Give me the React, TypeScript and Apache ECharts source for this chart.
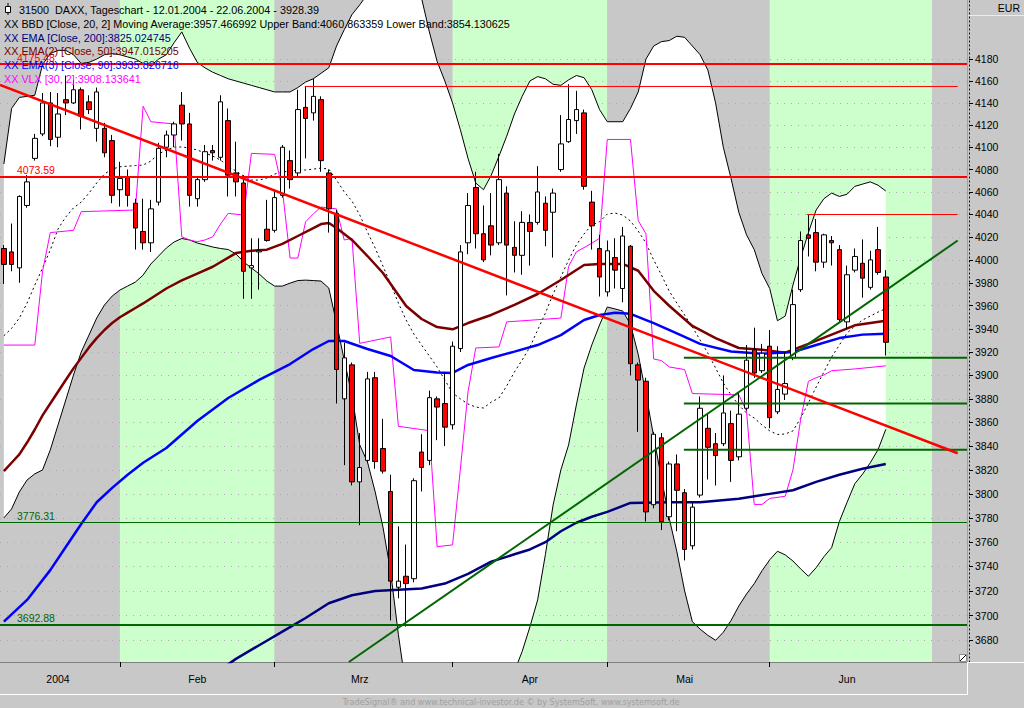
import React, { useEffect, useRef } from "react";
import * as echarts from "echarts";

// ---------- DATA ----------
const SLOTS = 125; // trading-day slots on the x axis (12.01.2004 .. early July)
const categories = Array.from({ length: SLOTS }, (_, i) => String(i));

const monthNames = ["2004", "Feb", "Mrz", "Apr", "Mai", "Jun"];
const monthLabelAt = [7, 25, 46, 68, 88, 109];
const monthStarts = [15, 35, 58, 78, 99];
const bandBounds = [-0.5, 15, 35, 58, 78, 99, 120, 124.5];

const yTicks = [3680, 3700, 3720, 3740, 3760, 3780, 3800, 3820, 3840, 3860, 3880, 3900, 3920, 3940, 3960, 3980, 4000, 4020, 4040, 4060, 4080, 4100, 4120, 4140, 4160, 4180];
const yRange = [3662.5, 4234.5];

const open = [4010,4007,3993,4048,4090,4112,4140,4109,4143,4140, 4152,4141,4117,4117,4106,4062,4073,4050,4025,4015, 4051,4100,4111,4138,4121,4054,4071,4097,4091,4124, 4077,4068,3993,4007,4027,4026,4057,4088,4077,4136, 4131,4143,4077,4041,3880,3909,3810,3828,3898,3838, 3802,3723,3732,3730,3835,3828,3880,3876,3858,3923, 4015,4064,4023,4030,4015,4059,4011,4004,4033,4033, 4050,4042,4080,4105,4124,4131,4051,4010,3972,4002, 3975,4012,3909,3895,3791,3847,3781,3825,3801,3757, 3799,3855,3842,3842,3859,3831,3872,3922,3904,3925, 3869,3884,3915,3974,4022,4024,3998,4017,4009,3946, 3991,3997,3976,4009,3985];
const close = [3996,3996,4056,4069,4108,4140,4107,4130,4140,4152, 4128,4134,4150,4095,4057,4072,4057,4028,4015,4045, 4099,4111,4121,4121,4057,4071,4096,4095,4141,4075, 4069,3990,3995,4008,4017,4055,4100,4071,4134,4126, 4146,4088,4045,3905,3915,3810,3822,3897,3827,3819, 3728,3728,3726,3811,3822,3881,3873,3856,3925,4007, 4048,4023,4000,4013,4071,4013,4004,4033,4025,4060, 4026,4059,4103,4125,4134,4065,4030,3985,4008,3991, 4021,3910,3896,3785,3850,3777,3825,3803,3754,3789, 3872,3839,3832,3868,3828,3867,3913,3902,3919,3864, 3888,3893,3961,4017,4019,3998,4022,4015,3948,3987, 4003,3984,4000,3989,3928.39];
const high = [4013,4032,4057,4075,4112,4149,4150,4149,4165,4161, 4154,4147,4154,4122,4111,4087,4080,4054,4054,4053, 4104,4115,4123,4150,4131,4074,4102,4102,4147,4135, 4105,4075,4019,4019,4053,4062,4102,4097,4152,4155, 4162,4146,4080,4044,3928,3911,3851,3903,3903,3863, 3816,3773,3758,3813,3850,3887,3882,3902,3929,4013, 4059,4078,4048,4059,4094,4065,4034,4043,4040,4083, 4056,4063,4129,4157,4151,4134,4061,4022,4017,4019, 4029,4013,3911,3898,3852,3851,3827,3833,3804,3793, 3882,3868,3851,3900,3870,3885,3926,3941,3927,3939, 3925,3920,3974,4025,4040,4036,4023,4021,4013,3995, 4010,4018,4008,4029,3991];
const low = [3979,3990,3980,4046,4088,4110,4101,4100,4129,4139, 4116,4130,4105,4091,4050,4047,4047,4009,4009,4007, 4048,4091,4100,4106,4047,4047,4069,4088,4088,4056, 4056,3966,3966,3974,4016,4024,4055,4063,4074,4090, 4124,4078,4024,3876,3824,3807,3774,3826,3821,3817, 3696,3714,3691,3727,3802,3824,3845,3840,3854,3920, 4005,4010,3998,4004,4013,3969,3989,3987,3995,4031, 4012,4002,4078,4104,4112,4062,4009,3968,3968,3975, 3963,3900,3852,3777,3788,3770,3778,3769,3745,3754, 3797,3812,3807,3840,3810,3828,3870,3898,3902,3855, 3867,3879,3913,3972,4003,3990,3993,3995,3946,3940, 3989,3967,3974,3987,3917];

const bbUpper = [4085,4135,4145,4146,4147,4175,4185,4188,4188,4184, 4176,4177,4180,4184,4185,4184,4182,4180,4176,4174, 4180,4184,4195,4205,4190,4177,4172,4168,4165,4162, 4160,4158,4156,4154,4152,4150,4150,4150,4154,4159, 4162,4167,4172,4192,4207,4221,4230,4240,4250,4255, 4258,4260,4258,4250,4236,4205,4178,4160,4140,4116, 4090,4068,4062,4075,4092,4110,4130,4146,4160,4164, 4162,4157,4156,4161,4165,4163,4152,4134,4123,4123, 4123,4135,4150,4180,4192,4196,4197,4201,4200,4192, 4184,4170,4140,4100,4072,4042,4022,4009,3988,3975, 3947,3951,3978,4002,4024,4044,4054,4059,4056,4058, 4065,4067,4069,4066,4060.86];
const bbLower = [3780,3787.5,3801.6,3811.6,3816.7,3820,3836.8,3857.8,3879,3900.3, 3920,3934.6,3949.3,3960.6,3968.4,3973.6,3977.1,3980.6,3986.7,3996.4, 4003.4,4010.4,4015.7,4018.8,4017.5,4014.8,4013.1,4011.3,4010,4009.1, 4005.2,3998.2,3992.9,3987.7,3981.5,3977.1,3977.1,3979.7,3981.9,3982.3, 3981.9,3981.5,3975.4,3945,3913,3883,3841,3826.7,3801.6,3772.6, 3735.5,3684.5,3641,3615,3600,3590,3582,3578,3578,3582, 3590,3598,3606,3615,3626,3640,3655,3671,3690.8,3712.7, 3749.7,3790.8,3820,3841,3874.7,3906.3,3926.1,3943.3,3958.9,3957.2, 3955.4,3944,3918,3884,3848,3813,3780,3752,3720,3695, 3689,3684,3680,3686.5,3696,3707.7,3717.5,3726,3736.5,3745.5, 3752.5,3749.5,3744.5,3738,3732,3739,3748,3755.5,3777,3793, 3808.5,3816.5,3826,3837,3854.13];
const bbMid = [3934,3940.4,3949.3,3962.3,3978,3992.9,4008.7,4027.2,4037.8,4045.8, 4051,4059,4068,4076,4080.4,4082.5,4083,4083.6,4084,4087.6, 4093.9,4097.5,4100.2,4100.2,4099.3,4097.5,4094.8,4092.1,4088.5,4083.1, 4078.7,4074.2,4070.6,4070.6,4072.4,4076,4077.8,4078.7,4079.6,4079.6, 4080.4,4081.3,4080.4,4070.6,4060,4051.9,4039.6,4024.5,4010.4,3994.6, 3978.9,3962.3,3947.6,3935.5,3926,3916.6,3907.2,3896.1,3885.1,3880, 3875.6,3873,3872.2,3877.2,3880.7,3891,3902.9,3913.2,3924.3,3939, 3953.6,3970.2,3985,3999.9,4013.1,4022.8,4030.9,4033.5,4040.4,4041.3, 4039.5,4034.2,4025.3,4014.8,3999.9,3986.8,3972.8,3962.3,3951.9,3941.6, 3930.3,3919.1,3906.3,3893.5,3883.2,3874.7,3868,3863.7,3857.8,3852.8, 3849.8,3850.2,3852.8,3863.7,3876.5,3890.1,3902.9,3915.7,3926,3936.4, 3942.4,3947.6,3951.1,3954.5,3957.47];

// [day index, value]
const ema200 = [[27,3652],[30,3665],[33,3676],[36,3687],[39,3698],[42,3710],[45,3716.5],[48,3720],[51,3721],[54,3722],[57,3726],[60,3734],[63,3744],[66,3750],[68,3754],[70,3760],[72,3769],[74,3776],[76,3781],[78,3785],[81,3792.5],[86,3793],[90,3793],[95,3796],[99,3800],[102,3803],[105,3810],[108,3816],[111,3821],[114,3825.02]];
const ema50 = [[0,3819],[1,3826],[2,3833],[3,3843],[4,3854],[5,3866],[6,3876],[7,3886],[8,3896],[9,3906],[10,3915],[11,3924],[12,3932],[13,3939],[14,3945],[15,3950],[16,3954],[17,3958],[18,3962],[21,3975],[23,3982],[25,3988],[27,3994],[30,4006],[32,4008],[34,4009],[36,4014],[38,4021],[40,4028],[41,4031.5],[42,4032.5],[43,4028],[45,4017.5],[47,4003.4],[49,3988.5],[52,3959.7],[54,3948.5],[56,3941.5],[58,3939.6],[60,3945],[63,3952],[66,3960.7],[69,3970.2],[72,3982.4],[75,3995.5],[77,3996.5],[80,3996.5],[82,3990.5],[84,3973],[86,3960],[89,3942.5],[92,3932],[95,3923.5],[98,3922],[101,3919.5],[104,3927],[107,3935],[110,3943],[114,3947.02]];
const ema90 = [[0,3695],[3,3712.7],[6,3737],[8,3756],[10,3775],[12,3793],[14,3805],[16,3816],[18,3826],[21,3838.4],[25,3861.2],[29,3880.7],[33,3896.1],[37,3909.7],[40,3922.6],[42,3929.5],[44,3929.5],[47,3922.6],[50,3916.6],[53,3904.6],[56,3902.5],[58,3902.1],[60,3908.9],[63,3914.9],[66,3920.4],[69,3926],[72,3934.6],[75,3947.6],[77,3952],[79,3954],[81,3953],[84,3945],[87,3936],[90,3927],[94,3920.5],[98,3918.5],[102,3920],[105,3926],[108,3932],[111,3935],[114,3935.83]];
const vlx = [[0,3926],[4,3926],[5,3990],[6,4024],[9,4026],[10,4042.5],[17,4044],[18,4137],[19,4123],[22,4121],[23,4020.3],[24,4017.5],[25,4016],[26,4017.5],[27,4020.3],[28,4031.5],[29,4041],[31,4039.5],[32,4094.5],[35,4093.6],[36,4062],[37,4001.6],[38,4001.6],[39,4033.5],[40,4040.5],[41,4046.6],[43,4045],[44,4017.5],[45,4019],[46,3927.5],[50,3933],[51,3856.7],[55,3853],[56,3756.3],[58,3757.7],[59,3820],[60,3886],[61,3923.5],[64,3924.4],[65,3946],[72,3949.3],[73,3994.3],[74,4007],[76,4014.6],[77,4019],[78,4107],[81,4107],[82,4034.6],[83,4023],[84,3914],[85,3912.7],[86,3907.2],[88,3905],[89,3884.5],[95,3883.4],[96,3869.6],[97,3791.2],[98,3791.2],[99,3796.2],[101,3798],[102,3820],[103,3862.5],[104,3895],[105,3898],[106,3900.3],[107,3904],[110,3905.5],[114,3908.13]];

const redLevels = [4175.48, 4073.59];
const greenLevels = [3776.31, 3692.88];
// [from index, to index, value]
const redResistances = [[38.9, 123.3, 4155], [103.8, 123.3, 4040]];
const greenSupports = [[87.9, 124.5, 3915], [87.9, 124.5, 3876], [87.9, 124.5, 3837]];
// [[index, value], [index, value]]
const redTrend = [[-0.5, 4156.3], [123.3, 3834]];
const greenTrend = [[44.6, 3662.5], [123.3, 4017]];

const legendLines = [
  "31500  DAXX, Tageschart - 12.01.2004 - 22.06.2004 - 3928.39",
  "XX BBD [Close, 20, 2] Moving Average:3957.466992 Upper Band:4060.863359 Lower Band:3854.130625",
  "XX EMA [Close, 200]:3825.024745",
  "XX EMA(2) [Close, 50]:3947.015205",
  "XX EMA(3) [Close, 90]:3935.826716",
  "XX VLX [30, 2]:3908.133641",
];
const footer = "TradeSignal\u00ae and www.technical-investor.de \u00a9 by SystemSoft, www.systemsoft.de";

// ---------- STYLE ----------
const FONT = '"Liberation Sans", Arial, sans-serif';
const GRAY = "#c8c8c8";
const LGREEN = "#ccffcc";
const RED = "#ff0000";
const DGREEN = "#006600";
const NAVY = "#000080";
const MAROON = "#7a0000";
const BLUE = "#0000ff";
const MAGENTA = "#ff00ff";
const legendColors = ["#000000", "#000000", NAVY, MAROON, BLUE, MAGENTA];

const ln = Math.log;
const lnPairs = (arr: number[][]) => arr.map(([i, v]) => [i, ln(v)]);

function buildOption(): any {
  const bands: any[] = [];
  for (let k = 0; k < bandBounds.length - 1; k++) {
    bands.push([
      { xAxis: bandBounds[k], itemStyle: { color: k % 2 === 0 ? GRAY : LGREEN } },
      { xAxis: bandBounds[k + 1] },
    ]);
  }
  const dummy = [[0, ln(4000)]];
  const lineBase = (extra: any) => ({
    type: "line",
    symbol: "none",
    silent: true,
    animation: false,
    ...extra,
  });

  const series: any[] = [
    lineBase({
      name: "bands",
      xAxisIndex: 1,
      data: dummy,
      lineStyle: { opacity: 0 },
      z: 0,
      markArea: { silent: true, z: 0, data: bands },
    }),
    lineBase({
      name: "grid",
      xAxisIndex: 1,
      data: dummy,
      lineStyle: { opacity: 0 },
      z: 1,
      markLine: {
        silent: true,
        z: 1,
        precision: 10,
        symbol: ["none", "none"],
        label: { show: false },
        lineStyle: { color: "#b8a4b8", type: [1, 6], width: 1 },
        data: yTicks.map((v) => ({ yAxis: ln(v) })),
      },
    }),
    lineBase({
      name: "bbBase",
      xAxisIndex: 0,
      stack: "bb",
      data: bbLower.map(ln),
      lineStyle: { width: 0, opacity: 0 },
      z: 2,
    }),
    lineBase({
      name: "bbFill",
      xAxisIndex: 0,
      stack: "bb",
      data: bbUpper.map((u, i) => ln(u) - ln(bbLower[i])),
      lineStyle: { width: 0, opacity: 0 },
      areaStyle: { color: "#ffffff", opacity: 1 },
      z: 2,
    }),
    lineBase({ name: "upper", xAxisIndex: 0, data: bbUpper.map(ln), lineStyle: { color: "#000", width: 1 }, z: 3 }),
    lineBase({ name: "lower", xAxisIndex: 0, data: bbLower.map(ln), lineStyle: { color: "#000", width: 1 }, z: 3 }),
    lineBase({ name: "mid", xAxisIndex: 0, data: bbMid.map(ln), lineStyle: { color: "#000", width: 1, type: [2, 3] }, z: 3 }),
    lineBase({ name: "vlx", xAxisIndex: 1, data: lnPairs(vlx), lineStyle: { color: MAGENTA, width: 1 }, z: 4 }),
    lineBase({ name: "ema200", xAxisIndex: 1, data: lnPairs(ema200), lineStyle: { color: NAVY, width: 2.5 }, z: 4 }),
    lineBase({ name: "ema50", xAxisIndex: 1, data: lnPairs(ema50), lineStyle: { color: MAROON, width: 2.5 }, z: 4 }),
    lineBase({ name: "ema90", xAxisIndex: 1, data: lnPairs(ema90), lineStyle: { color: BLUE, width: 2.5 }, z: 4 }),
    {
      type: "candlestick",
      name: "DAXX",
      xAxisIndex: 0,
      z: 5,
      barWidth: 5,
      silent: true,
      data: open.map((o, i) => [ln(o), ln(close[i]), ln(low[i]), ln(high[i])]),
      itemStyle: { color: "#ffffff", color0: RED, borderColor: "#000", borderColor0: "#000", borderWidth: 1 },
    },
    lineBase({
      name: "levels",
      xAxisIndex: 1,
      data: dummy,
      lineStyle: { opacity: 0 },
      z: 6,
      markLine: {
        silent: true,
        z: 6,
        precision: 10,
        symbol: ["none", "none"],
        label: { show: true, position: "insideStartTop", distance: [17, 1], fontSize: 10.5, fontFamily: FONT },
        data: [
          ...redLevels.map((v) => ({
            yAxis: ln(v),
            lineStyle: { color: RED, width: 2, type: "solid" },
            label: { formatter: v.toFixed(2), color: RED },
          })),
          ...greenLevels.map((v, k) => ({
            yAxis: ln(v),
            lineStyle: { color: DGREEN, width: k === 0 ? 1 : 2, type: "solid" },
            label: { formatter: v.toFixed(2), color: DGREEN },
          })),
        ],
      },
    }),
    ...redResistances.map(([a, b, v]) =>
      lineBase({ xAxisIndex: 1, data: [[a, ln(v)], [b, ln(v)]], lineStyle: { color: RED, width: 1 }, z: 6 })
    ),
    ...greenSupports.map(([a, b, v]) =>
      lineBase({ xAxisIndex: 1, data: [[a, ln(v)], [b, ln(v)]], lineStyle: { color: DGREEN, width: 2 }, z: 6 })
    ),
    lineBase({ xAxisIndex: 1, data: lnPairs(redTrend), lineStyle: { color: RED, width: 2.5 }, z: 6 }),
    lineBase({ xAxisIndex: 1, data: lnPairs(greenTrend), lineStyle: { color: DGREEN, width: 2 }, z: 6 }),
  ];

  const graphic: any[] = [];
  legendLines.forEach((t, k) => {
    graphic.push({
      type: "text",
      x: k === 0 ? 19 : 4,
      y: 10 + k * 13.8,
      z: 100,
      silent: true,
      style: { text: t, fill: legendColors[k], font: `10.8px ${FONT}`, verticalAlign: "middle", align: "left" },
    });
  });
  graphic.push(
    { type: "rect", z: 100, silent: true, shape: { x: 5.5, y: 6.5, width: 5, height: 6 }, style: { fill: "#fff", stroke: "#000", lineWidth: 1 } },
    { type: "line", z: 100, silent: true, shape: { x1: 8, y1: 3, x2: 8, y2: 6.5 }, style: { stroke: "#000", lineWidth: 1 } },
    { type: "line", z: 100, silent: true, shape: { x1: 8, y1: 12.5, x2: 8, y2: 15 }, style: { stroke: "#000", lineWidth: 1 } },
    // right axis frame
    { type: "line", z: 50, silent: true, shape: { x1: 967.5, y1: 0, x2: 967.5, y2: 662 }, style: { stroke: "#a0a0a0", lineWidth: 1 } },
    { type: "line", z: 50, silent: true, shape: { x1: 968, y1: 15.5, x2: 1024, y2: 15.5 }, style: { stroke: "#ececec", lineWidth: 1 } },
    { type: "text", z: 50, silent: true, x: 1020, y: 8, style: { text: "EUR", fill: "#000", font: `10.5px ${FONT}`, align: "right", verticalAlign: "middle" } },
    // x axis box
    { type: "line", z: 50, silent: true, shape: { x1: 0, y1: 694.5, x2: 967, y2: 694.5 }, style: { stroke: "#ffffff", lineWidth: 1 } },
    { type: "line", z: 50, silent: true, shape: { x1: 967.5, y1: 662, x2: 967.5, y2: 695 }, style: { stroke: "#ffffff", lineWidth: 1 } },
    { type: "line", z: 50, silent: true, shape: { x1: 968, y1: 662.5, x2: 1024, y2: 662.5 }, style: { stroke: "#ffffff", lineWidth: 1 } },
    // resize corner
    { type: "rect", z: 60, silent: true, shape: { x: 959.5, y: 654.5, width: 7, height: 7 }, style: { fill: "#fff", stroke: "#909090", lineWidth: 1 } },
    { type: "line", z: 61, silent: true, shape: { x1: 960, y1: 661, x2: 966, y2: 655 }, style: { stroke: "#000", lineWidth: 1 } },
    // footer
    { type: "text", z: 50, silent: true, x: 511, y: 702, style: { text: footer, fill: "#a0a0a0", font: `9px "DejaVu Sans Condensed", "Liberation Sans Narrow", sans-serif`, align: "center", verticalAlign: "middle" } }
  );

  return {
    animation: false,
    backgroundColor: GRAY,
    grid: { left: 0, right: 57, top: 0, bottom: 46, containLabel: false },
    xAxis: [
      {
        type: "category",
        data: categories,
        boundaryGap: true,
        axisLine: { show: true, onZero: false, lineStyle: { color: "#808080", width: 1 } },
        axisTick: {
          show: true,
          alignWithLabel: true,
          interval: (i: number) => monthStarts.includes(i),
          length: 5,
          lineStyle: { color: "#000" },
        },
        axisLabel: {
          interval: (i: number) => monthLabelAt.includes(i),
          formatter: (_v: string, i: number) => monthNames[monthLabelAt.indexOf(i)] ?? "",
          color: "#000",
          fontSize: 10.5,
          fontFamily: FONT,
          margin: 11,
        },
        splitLine: { show: false },
      },
      { type: "value", min: -0.5, max: SLOTS - 0.5, show: false, splitLine: { show: false } },
    ],
    yAxis: {
      type: "value",
      position: "right",
      min: ln(yRange[0]),
      max: ln(yRange[1]),
      offset: 2,
      axisLine: { show: true, onZero: false, lineStyle: { color: "#000", type: [1, 3], width: 1 } },
      axisTick: { show: true, length: 4, customValues: yTicks.map(ln), lineStyle: { color: "#000" } },
      axisLabel: {
        customValues: yTicks.map(ln),
        formatter: (v: number) => String(Math.round(Math.exp(v))),
        color: "#000",
        fontSize: 10.5,
        fontFamily: FONT,
        margin: 6,
      },
      splitLine: { show: false },
    },
    series,
    graphic,
  };
}

export default function App() {
  const ref = useRef<HTMLDivElement>(null);
  useEffect(() => {
    if (!ref.current) return;
    const chart = echarts.init(ref.current, undefined, { renderer: "svg" });
    chart.setOption(buildOption());
    return () => chart.dispose();
  }, []);
  return (
    <div
      ref={ref}
      style={{ position: "absolute", left: 0, top: 0, width: 1024, height: 708 }}
    />
  );
}
